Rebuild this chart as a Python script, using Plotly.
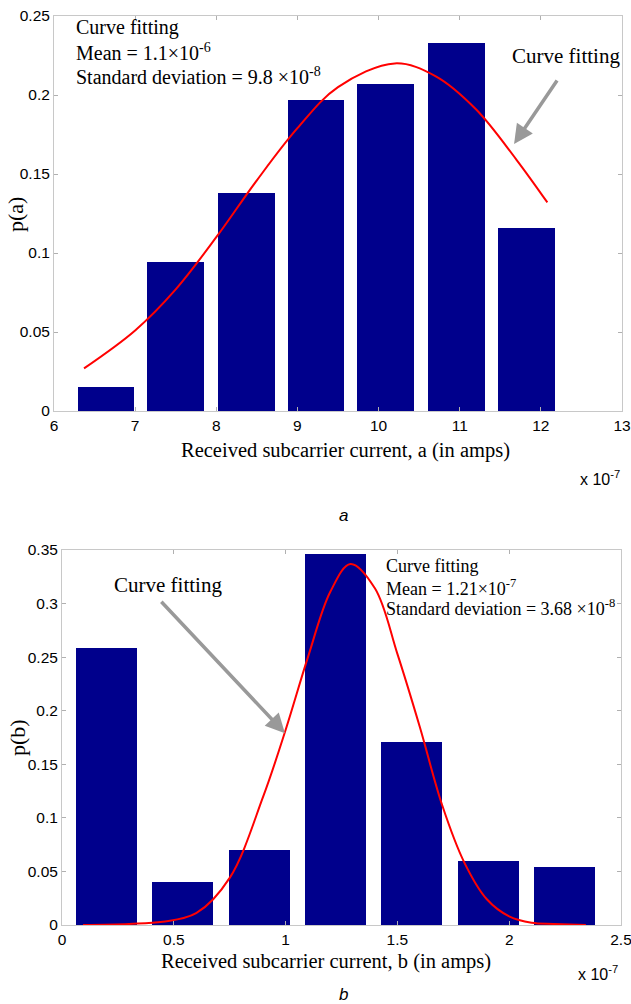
import plotly.graph_objects as go

W, H = 631, 1004

# ---- data (x in units of 1e-7 A) ----
a_centers = [6.64, 7.50, 8.37, 9.23, 10.09, 10.96, 11.82]
a_probs = [0.015, 0.094, 0.138, 0.197, 0.207, 0.233, 0.116]
a_fit_x = [6.37, 7.0, 7.5, 8.0, 8.5, 9.0, 9.5, 10.2, 10.7, 11.2, 11.7, 12.08]
a_fit_y = [0.027, 0.051, 0.077, 0.110, 0.146, 0.179, 0.205, 0.220, 0.212, 0.191, 0.159, 0.132]

b_centers = [0.199, 0.540, 0.882, 1.223, 1.564, 1.906, 2.247]
b_probs = [0.259, 0.040, 0.070, 0.346, 0.171, 0.060, 0.054]
b_fit_x = [0.094, 0.30, 0.45, 0.60, 0.75, 0.90, 1.00, 1.10, 1.20, 1.29, 1.40, 1.50,
           1.60, 1.70, 1.80, 1.90, 2.00, 2.10, 2.20, 2.343]
b_fit_y = [0.000, 0.001, 0.003, 0.011, 0.044, 0.120, 0.182, 0.250, 0.311, 0.337, 0.314,
           0.253, 0.185, 0.112, 0.058, 0.024, 0.008, 0.002, 0.001, 0.000]

a_ticks = [6, 7, 8, 9, 10, 11, 12, 13]
a_yticks = [0, 0.05, 0.1, 0.15, 0.2, 0.25]
a_ytext = ["0", "0.05", "0.1", "0.15", "0.2", "0.25"]
b_ticks = [0, 0.5, 1, 1.5, 2, 2.5]
b_ttext = ["0", "0.5", "1", "1.5", "2", "2.5"]
b_yticks = [0, 0.05, 0.1, 0.15, 0.2, 0.25, 0.3, 0.35]
b_ytext = ["0", "0.05", "0.1", "0.15", "0.2", "0.25", "0.3", "0.35"]

a_text = ["Curve fitting", "Mean = 1.1×10<sup>-6</sup>", "Standard deviation = 9.8 ×10<sup>-8</sup>"]
b_text = ["Curve fitting", "Mean = 1.21×10<sup>-7</sup>", "Standard deviation = 3.68 ×10<sup>-8</sup>"]

BAR = "#00008c"
SERIF = "Liberation Serif, Times New Roman, serif"
NARROW = "Liberation Sans Narrow, Arial Narrow, Liberation Sans, sans-serif"
SANS = "Liberation Sans, Arial, sans-serif"


def px(x):
    return x / W


def py(y):
    return 1 - y / H


fig = go.Figure()
fig.add_trace(go.Bar(x=a_centers, y=a_probs, width=0.70, marker=dict(color=BAR, line=dict(width=0)),
                     xaxis="x", yaxis="y", showlegend=False))
fig.add_trace(go.Scatter(x=a_fit_x, y=a_fit_y, mode="lines", line=dict(color="#ff0000", width=2, shape="spline"),
                         xaxis="x", yaxis="y", showlegend=False))
fig.add_trace(go.Bar(x=b_centers, y=b_probs, width=0.272, marker=dict(color=BAR, line=dict(width=0)),
                     xaxis="x2", yaxis="y2", showlegend=False))
fig.add_trace(go.Scatter(x=b_fit_x, y=b_fit_y, mode="lines", line=dict(color="#ff0000", width=2, shape="spline"),
                         xaxis="x2", yaxis="y2", showlegend=False))

axis_common = dict(showgrid=False, zeroline=False, showline=True, linecolor="#c8c8c8", linewidth=1,
                   mirror="allticks", ticks="inside", ticklen=4, tickcolor="#b0b0b0", automargin=False,
                   ticklabeloverflow="allow",
                   tickfont=dict(family=NARROW, size=15.5, color="black"))

fig.update_layout(
    width=W, height=H, margin=dict(l=0, r=0, t=0, b=0, pad=0, autoexpand=False),
    paper_bgcolor="white", plot_bgcolor="white", bargap=0,
    xaxis=dict(domain=[px(54), px(622)], range=[6, 13], tickvals=a_ticks, anchor="y", **axis_common),
    yaxis=dict(domain=[py(411), py(16)], range=[0, 0.25], tickvals=a_yticks, ticktext=a_ytext,
               anchor="x", **axis_common),
    xaxis2=dict(domain=[px(62), px(621)], range=[0, 2.5], tickvals=b_ticks, ticktext=b_ttext,
                anchor="y2", **axis_common),
    yaxis2=dict(domain=[py(925), py(550)], range=[0, 0.35], tickvals=b_yticks, ticktext=b_ytext,
                anchor="x2", **axis_common),
)

ann = []


def label(x, y, text, size, family=SERIF, xanchor="center", angle=0):
    ann.append(dict(xref="paper", yref="paper", x=px(x), y=py(y), xanchor=xanchor, yanchor="middle",
                    showarrow=False, textangle=angle, font=dict(family=family, size=size, color="black"),
                    text=text))


# top panel text block (one line per annotation)
for t, yy in zip(a_text, [28, 52, 76]):
    label(74, yy, t, 20, xanchor="left")
# top arrow
ann.append(dict(xref="x", yref="y", x=11.67, y=0.169, ax=44, ay=-65, showarrow=True, arrowhead=2,
                arrowsize=1.1, arrowwidth=3.5, arrowcolor="#999999", text=""))
label(566, 56, "Curve fitting", 21)
# bottom panel text block
for t, yy in zip(b_text, [566, 587, 607]):
    label(384, yy, t, 18, xanchor="left")
ann.append(dict(xref="x2", yref="y2", x=0.997, y=0.179, ax=-125, ay=-133, showarrow=True, arrowhead=2,
                arrowsize=1.1, arrowwidth=3.5, arrowcolor="#999999", text=""))
label(168, 585, "Curve fitting", 21)
# axis titles
label(345, 450, "Received subcarrier current, a (in amps)", 20.5)
label(326, 961, "Received subcarrier current, b (in amps)", 20.5)
label(15, 215, "p(a)", 22, angle=-90)
label(17, 738, "p(b)", 22, angle=-90)
# exponent labels
label(600, 478, "x 10<sup>-7</sup>", 16, family=NARROW)
label(598, 973, "x 10<sup>-7</sup>", 16, family=NARROW)
# captions
label(343, 515, "<i>a</i>", 17, family=SANS)
label(343, 994, "<i>b</i>", 17, family=SANS)

fig.update_layout(annotations=ann)
fig.write_html("out.html")
